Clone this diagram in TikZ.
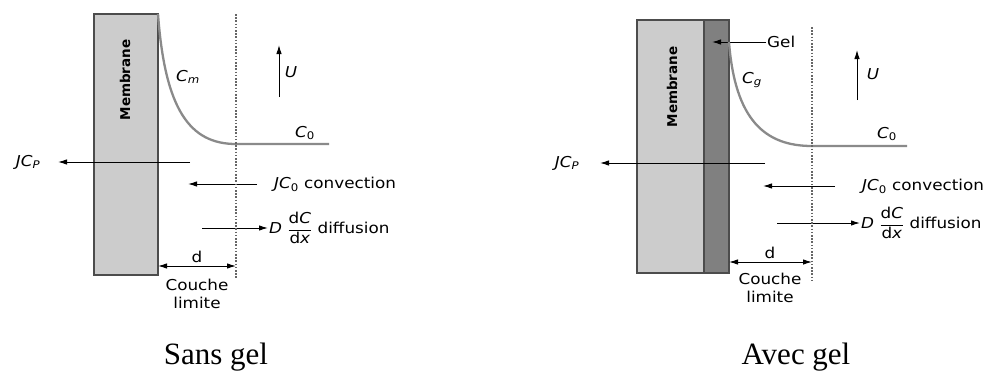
\documentclass[tikz,border=0pt]{standalone}
\usepackage{fontspec}
\setmainfont{Liberation Serif}
\newfontfamily\lblfont[FakeStretch=1.12]{DejaVu Sans}
\newfontfamily\membfont{DejaVu Sans}
\usetikzlibrary{arrows.meta}

\definecolor{membgray}{HTML}{CCCCCC}
\definecolor{gelgray}{HTML}{808080}
\definecolor{profgray}{HTML}{8A8A8A}

\def\conc#1{\textit{C}\textsubscript{#1}}
\def\dCdx{$\displaystyle\frac{\mbox{d\textit{C}}}{\mbox{d\textit{x}}}$}

\tikzset{
	lbl/.style={font=\lblfont\fontsize{15}{17}\selectfont, inner sep=1pt},
	memblbl/.style={font=\membfont\bfseries\fontsize{13.5}{15}\selectfont, rotate=90},
	caption/.style={font=\fontsize{31}{34}\selectfont, anchor=base},
	wall/.style={draw=black!70, line width=1.3pt},
	flux/.style={line width=1pt, -{Latex[length=9pt,width=5.5pt]}},
	both/.style={line width=1pt, {Latex[length=9pt,width=5.5pt]}-{Latex[length=9pt,width=5.5pt]}},
	layer/.style={black!60, line width=1.8pt, dash pattern=on 1.6pt off 1.6pt},
	profile/.style={profgray, line width=2.3pt},
}

\begin{document}
\begin{tikzpicture}[x=1pt, y=-1pt]
		\useasboundingbox (0,0) rectangle (1003,372);
		
		%%%%% SANS GEL %%%%%
		
		\draw[wall, fill=membgray] (94, 14) rectangle (158, 275);
		\node[memblbl] (memA) at (125, 80) {Membrane};
		
		% concentration profile
		\coordinate (cmA) at (158, 14);
		\coordinate (cbA) at (236, 144);
		\coordinate (ceA) at (329, 144);
		\draw[profile] (cmA) .. controls (165, 110) and (190, 144) .. (cbA) -- (ceA);
		\node[lbl] (CmA) at (188, 77) {\conc{\textit{m}}};
		\node[lbl] (C0A) at (305, 133) {\conc{0}};
		
		% flow velocity
		\coordinate (uA) at (279, 97);
		\coordinate (uAtip) at (279, 45);
		\draw[flux] (uA) -- (uAtip);
		\node[lbl] (UA) at (291, 72) {\textit{U}};
		
		% fluxes
		\node[lbl] (jcpA) at (28, 162) {\textit{J}\conc{\textit{P}}};
		\coordinate (jcpsA) at (190, 162);
		\coordinate (jcpeA) at (58, 162);
		\draw[flux] (jcpsA) -- (jcpeA);
		\node[lbl, anchor=west] (convA) at (273, 184) {\textit{J}\conc{0} convection};
		\coordinate (convsA) at (257, 184);
		\coordinate (conveA) at (188, 184);
		\draw[flux] (convsA) -- (conveA);
		\node[lbl, anchor=west] (diffA) at (268, 228) {\textit{D} \dCdx{} diffusion};
		\coordinate (diffsA) at (202, 228);
		\draw[flux] (diffsA) -- (diffA.west);
		
		% boundary layer
		\draw[layer] (236, 14) -- (236, 278);
		\coordinate (dlA) at (158, 266);
		\coordinate (drA) at (236, 266);
		\draw[both] (dlA) -- (drA);
		\node[lbl] (dA) at (197, 257) {d};
		\node[lbl] (couA) at (197, 285) {Couche};
		\node[lbl] (limA) at (197, 303) {limite};
		
		\node[caption] (sans) at (216, 364) {Sans gel};
		
		%%%%% AVEC GEL %%%%%
		
		\draw[wall, fill=membgray] (637, 20) rectangle (704, 273);
		\draw[wall, fill=gelgray] (704, 20) rectangle (729, 273);
		\node[memblbl] (memB) at (672, 87) {Membrane};
		
		\node[lbl, anchor=west] (gel) at (766, 42) {Gel};
		\coordinate (gelin) at (712, 42);
		\draw[flux] (gel.west) -- (gelin);
		
		% concentration profile
		\coordinate (cgB) at (729, 42);
		\coordinate (cbB) at (812, 146);
		\coordinate (ceB) at (907, 146);
		\draw[profile] (cgB) .. controls (735, 120) and (765, 146) .. (cbB) -- (ceB);
		\node[lbl] (CgB) at (752, 80) {\conc{\textit{g}}};
		\node[lbl] (C0B) at (887, 134) {\conc{0}};
		
		% flow velocity
		\coordinate (uB) at (857, 100);
		\coordinate (uBtip) at (857, 50);
		\draw[flux] (uB) -- (uBtip);
		\node[lbl] (UB) at (873, 74) {\textit{U}};
		
		% fluxes
		\node[lbl] (jcpB) at (567, 163) {\textit{J}\conc{\textit{P}}};
		\coordinate (jcpsB) at (765, 163);
		\coordinate (jcpeB) at (600, 163);
		\draw[flux] (jcpsB) -- (jcpeB);
		\node[lbl, anchor=west] (convB) at (861, 186) {\textit{J}\conc{0} convection};
		\coordinate (convsB) at (835, 186);
		\coordinate (conveB) at (763, 186);
		\draw[flux] (convsB) -- (conveB);
		\node[lbl, anchor=west] (diffB) at (860, 223) {\textit{D} \dCdx{} diffusion};
		\coordinate (diffsB) at (777, 223);
		\draw[flux] (diffsB) -- (diffB.west);
		
		% boundary layer
		\draw[layer] (812, 27) -- (812, 280);
		\coordinate (dlB) at (729, 262);
		\coordinate (drB) at (812, 262);
		\draw[both] (dlB) -- (drB);
		\node[lbl] (dB) at (770, 253) {d};
		\node[lbl] (couB) at (770, 279) {Couche};
		\node[lbl] (limB) at (770, 297) {limite};
		
		\node[caption] (avec) at (796, 364) {Avec gel};
		
		%%%%% END %%%%%
\end{tikzpicture}
\end{document}
